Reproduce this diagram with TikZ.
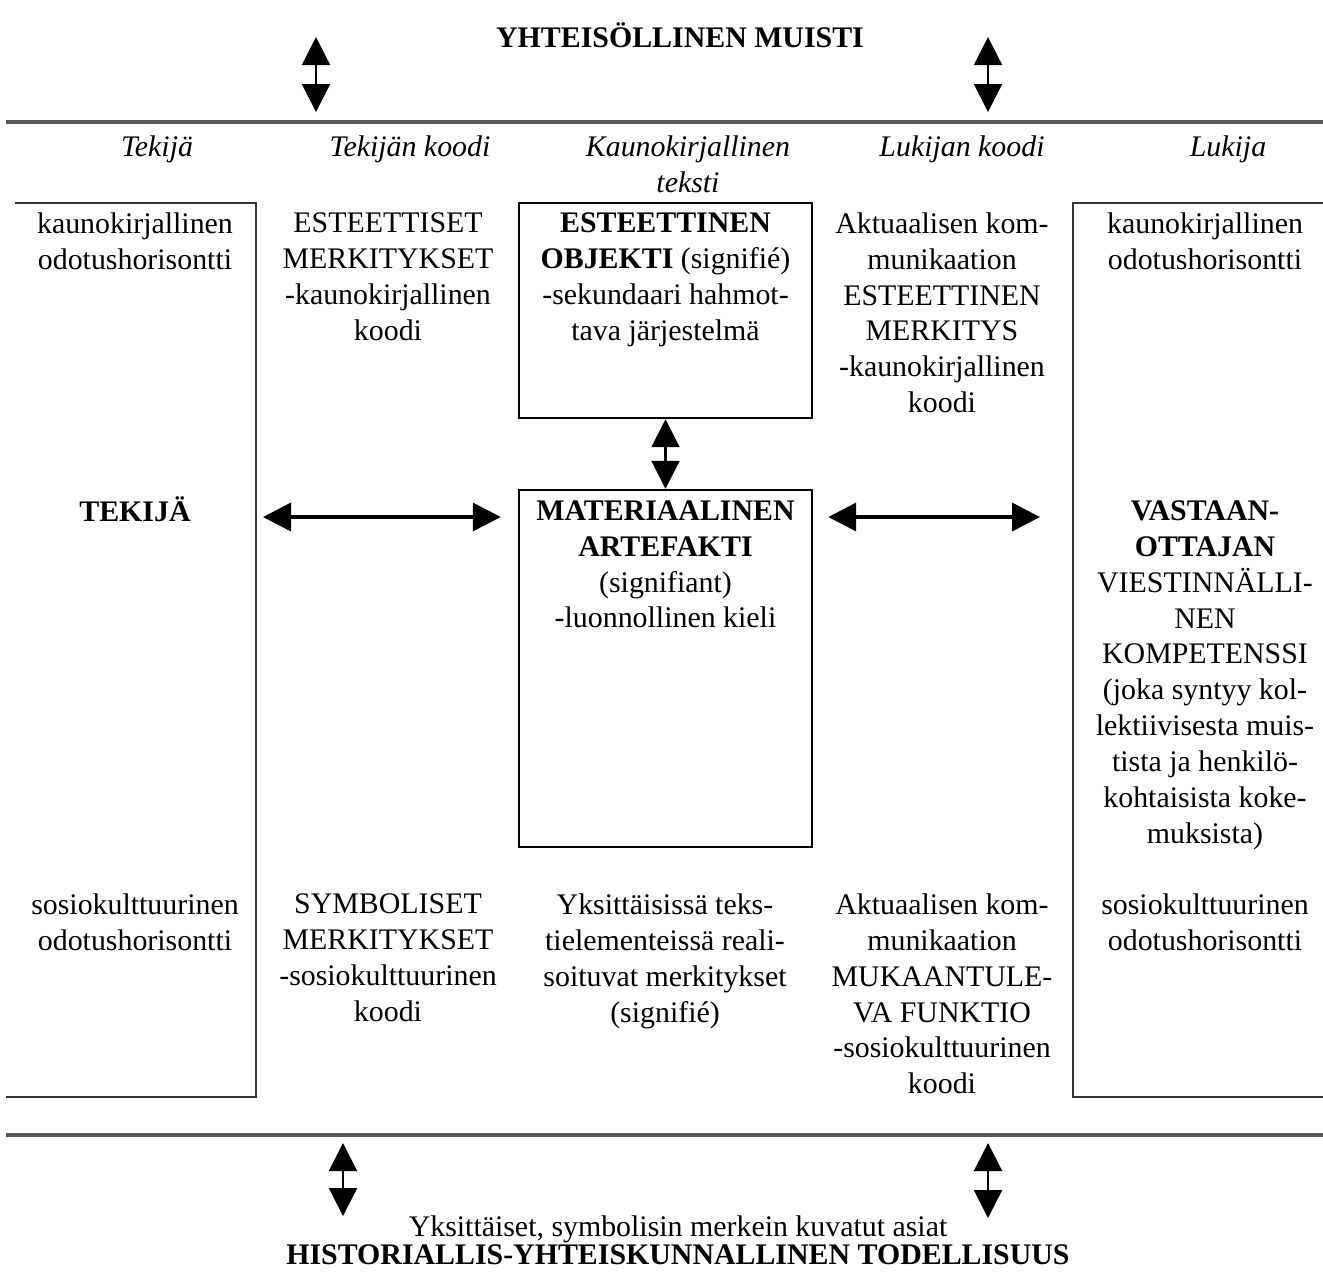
\documentclass[tikz,border=0pt]{standalone}
\usepackage{fontspec}
\setmainfont{Liberation Serif}
\usetikzlibrary{arrows.meta,positioning}

\begin{document}
\begin{tikzpicture}[
  txt/.style={inner sep=0pt,align=center,anchor=north,font=\fontsize{8.5}{10.2}\selectfont},
  head/.style={txt,font=\fontsize{8.5}{10.2}\selectfont\itshape},
  box/.style={draw,line width=0.7pt,minimum width=2.93cm,inner sep=0pt},
  rule/.style={draw=black!65,line width=1.3pt},
  bracket/.style={draw=black!80,line width=0.8pt},
  dbl/.style={{Triangle[length=0.28cm,width=0.28cm]}-{Triangle[length=0.28cm,width=0.28cm]},line width=0.6pt},
  dblthick/.style={dbl,line width=1pt}
]
  \useasboundingbox (0,0) rectangle (13.23,-12.75);

  % Yhteisollinen muisti
  \node[txt,font=\fontsize{8.5}{10.2}\selectfont\bfseries] (muisti) at (6.80,-0.22) {YHTEISÖLLINEN MUISTI};
  \coordinate (mA1) at (3.16,-0.37); \coordinate (mA2) at (3.16,-1.12);
  \coordinate (mB1) at (9.88,-0.37); \coordinate (mB2) at (9.88,-1.12);
  \draw[dbl] (mA1) -- (mA2);
  \draw[dbl] (mB1) -- (mB2);

  % rules
  \coordinate (ylaL) at (0.06,-1.22); \coordinate (ylaR) at (13.23,-1.22);
  \draw[rule] (ylaL) -- (ylaR);
  \coordinate (alaL) at (0.06,-11.35); \coordinate (alaR) at (13.23,-11.35);
  \draw[rule] (alaL) -- (alaR);

  % column headers
  \node[head] (hTekija) at (1.57,-1.35) {Tekijä};
  \node[head] (hTkoodi) at (4.10,-1.35) {Tekijän koodi};
  \node[head] (hTeksti) at (6.88,-1.35) {Kaunokirjallinen\\teksti};
  \node[head] (hLkoodi) at (9.62,-1.35) {Lukijan koodi};
  \node[head] (hLukija) at (12.28,-1.35) {Lukija};

  % side brackets
  \draw[bracket] (0.15,-2.03) -- (2.56,-2.03) -- (2.56,-10.97) -- (0.06,-10.97);
  \draw[bracket] (13.23,-2.03) -- (10.73,-2.03) -- (10.73,-10.97) -- (13.23,-10.97);

  % center boxes
  \node[box,minimum height=2.15cm] (obj) at (6.655,-3.105) {};
  \node[box,minimum height=3.57cm] (art) at (6.655,-6.685) {};
  \draw[dbl] (obj.south) -- (art.north);

  % top row
  \node[txt] (kaunoL) at (1.35,-2.12) {kaunokirjallinen\\odotushorisontti};
  \node[txt] (estMerk) at (3.88,-2.12) {ESTEETTISET\\MERKITYKSET\\-kaunokirjallinen\\koodi};
  \node[txt] (objTxt) at (6.655,-2.12) {\textbf{ESTEETTINEN}\\\textbf{OBJEKTI} (signifié)\\-sekundaari hahmot-\\tava järjestelmä};
  \node[txt] (aktEst) at (9.42,-2.12) {Aktuaalisen kom-\\munikaation\\ESTEETTINEN\\MERKITYS\\-kaunokirjallinen\\koodi};
  \node[txt] (kaunoR) at (12.05,-2.12) {kaunokirjallinen\\odotushorisontti};

  % middle row
  \node[txt] (tekija) at (1.35,-4.96) {\textbf{TEKIJÄ}};
  \node[txt] (artTxt) at (6.655,-5.00) {\textbf{MATERIAALINEN}\\\textbf{ARTEFAKTI}\\(signifiant)\\-luonnollinen kieli};
  \node[txt] (vast) at (12.05,-5.00) {\textbf{VASTAAN-}\\\textbf{OTTAJAN}\\VIESTINNÄLLI-\\NEN\\KOMPETENSSI\\(joka syntyy kol-\\lektiivisesta muis-\\tista ja henkilö-\\kohtaisista koke-\\muksista)};
  \coordinate (hA1) at (2.63,-5.17);
  \coordinate (hB1) at (10.40,-5.17);
  \draw[dblthick,shorten >=1.7mm] (hA1) -- (hA1 -| art.west);
  \draw[dblthick,shorten <=1.5mm] (hB1 -| art.east) -- (hB1);

  % bottom row
  \node[txt] (sosioL) at (1.35,-8.93) {sosiokulttuurinen\\odotushorisontti};
  \node[txt] (symMerk) at (3.88,-8.93) {SYMBOLISET\\MERKITYKSET\\-sosiokulttuurinen\\koodi};
  \node[txt] (yksTxt) at (6.65,-8.93) {Yksittäisissä teks-\\tielementeissä reali-\\soituvat merkitykset\\(signifié)};
  \node[txt] (aktMuk) at (9.42,-8.93) {Aktuaalisen kom-\\munikaation\\MUKAANTULE-\\VA FUNKTIO\\-sosiokulttuurinen\\koodi};
  \node[txt] (sosioR) at (12.05,-8.93) {sosiokulttuurinen\\odotushorisontti};

  % historiallis-yhteiskunnallinen todellisuus
  \coordinate (bA1) at (3.43,-11.43); \coordinate (bA2) at (3.43,-12.16);
  \coordinate (bB1) at (9.88,-11.43); \coordinate (bB2) at (9.88,-12.18);
  \draw[dbl] (bA1) -- (bA2);
  \draw[dbl] (bB1) -- (bB2);
  \node[txt] (asiat) at (6.78,-12.15) {Yksittäiset, symbolisin merkein kuvatut asiat};
  \node[txt,font=\fontsize{8.5}{10.2}\selectfont\bfseries] (todell) at (6.78,-12.44) {HISTORIALLIS-YHTEISKUNNALLINEN TODELLISUUS};
\end{tikzpicture}
\end{document}
